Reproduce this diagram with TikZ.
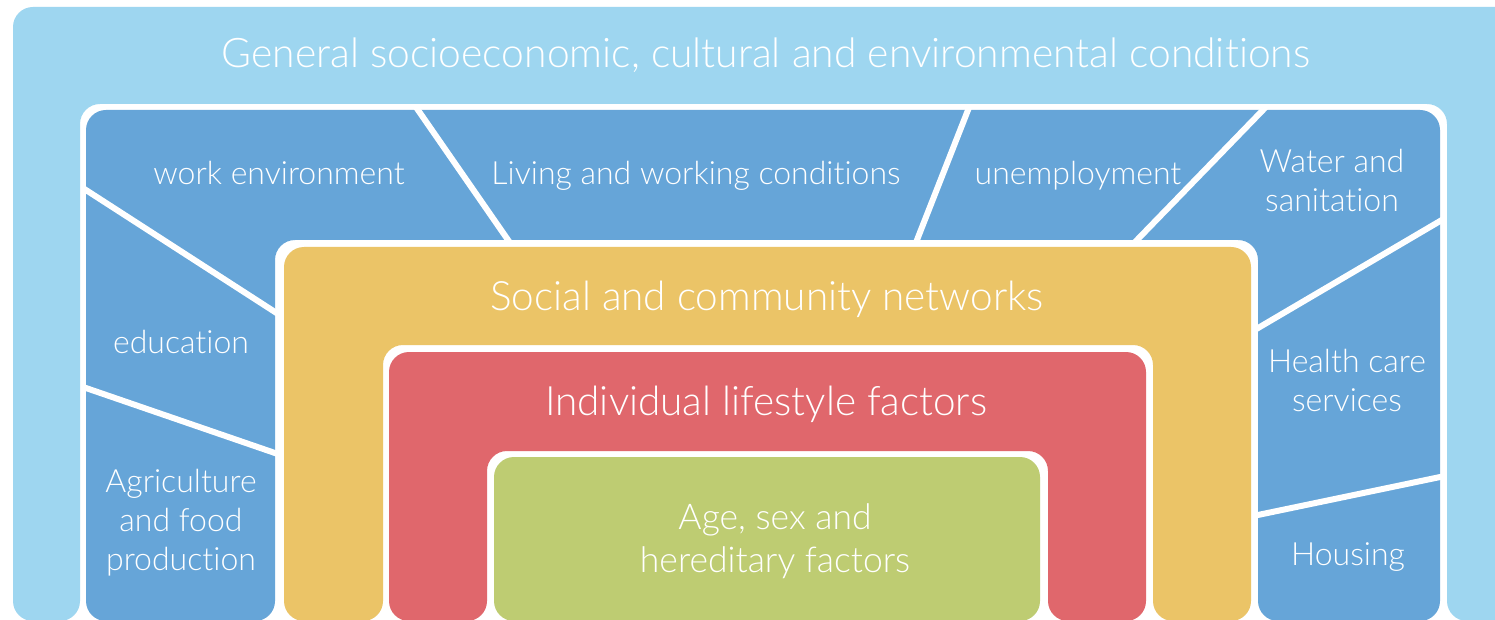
\documentclass[tikz,border=0pt]{standalone}
\usepackage{fontspec}
\IfFontExistsTF{Lato Light}{\setmainfont{Lato Light}[Ligatures={NoCommon,NoRequired,NoContextual}]}{\setmainfont{Lato}}
\definecolor{lblue}{RGB}{158,214,240}
\definecolor{mblue}{RGB}{102,165,216}
\definecolor{yel}{RGB}{235,196,103}
\definecolor{redc}{RGB}{224,103,108}
\definecolor{grn}{RGB}{190,204,114}
\tikzset{
  layer/.style={rounded corners=20pt},
  divider/.style={white, line width=6pt},
  lab/.style={text=white, align=center, anchor=base, inner sep=0pt, font=\fontsize{32}{39}\selectfont},
  biglab/.style={text=white, align=center, anchor=base, inner sep=0pt, font=\fontsize{40.5}{48}\selectfont},
}
\begin{document}
\begin{tikzpicture}[x=1pt,y=-1pt]
\useasboundingbox (0,0) rectangle (1495,620);
\clip (0,0) rectangle (1495,620);
\fill[white] (0,0) rectangle (1495,620);
% outer layer
\fill[lblue, layer] (13,621) -- (13,7) -- (1530,7) -- (1530,621) -- (1447,621) -- (1447,104) -- (80,104) -- (80,621) -- cycle;
% blue layer
\fill[mblue, layer] (86,621) -- (86,110) -- (1440,110) -- (1440,621) -- (1258,621) -- (1258,240) -- (275,240) -- (275,621) -- cycle;
\draw[divider] (415.9,107) coordinate (d1a) -- (510.1,243) coordinate (d1b);
\draw[divider] (969.2,107) coordinate (d2a) -- (915.8,243) coordinate (d2b);
\draw[divider] (1265.9,107) coordinate (d3a) -- (1134.1,243) coordinate (d3b);
\draw[divider] (83,188.1) coordinate (d4a) -- (279,314.6) coordinate (d4b);
\draw[divider] (83,387.0) coordinate (d5a) -- (279,454.4) coordinate (d5b);
\draw[divider] (1443.5,219.0) coordinate (d6a) -- (1254.5,330.1) coordinate (d6b);
\draw[divider] (1443.5,476.3) coordinate (d7a) -- (1254.5,515.7) coordinate (d7b);
% yellow layer
\fill[yel, layer] (284,621) -- (284,247) -- (1251,247) -- (1251,621) -- (1153,621) -- (1153,345) -- (383,345) -- (383,621) -- cycle;
% red layer
\fill[redc, layer] (389,621) -- (389,352) -- (1146,352) -- (1146,621) -- (1048,621) -- (1048,451) -- (487,451) -- (487,621) -- cycle;
% green
\fill[grn, layer] (494,621) rectangle (1040,457);
% texts (multi-line nodes: base = baseline of last line)
\node[lab, font=\fontsize{40.8}{50}\selectfont] (general) at (766,68) {General socioeconomic, cultural and environmental conditions};
\node[lab] (work) at (279,185) {work environment};
\node[lab] (living) at (696,185) {Living and working conditions};
\node[lab] (unemp) at (1078,185) {unemployment};
\node[lab] (water) at (1332,212) {Water and\\sanitation};
\node[lab] (edu) at (181,353) {education};
\node[lab] (agri) at (181,570) {Agriculture\\and food\\production};
\node[lab] (health) at (1347,411) {Health care\\services};
\node[lab] (housing) at (1348,565) {Housing};
\node[biglab] (social) at (767,310) {Social and community networks};
\node[biglab] (indiv) at (766,415) {Individual lifestyle factors};
\node[biglab, font=\fontsize{35.5}{43}\selectfont] (age) at (775,572) {Age, sex and\\hereditary factors};
\end{tikzpicture}
\end{document}
